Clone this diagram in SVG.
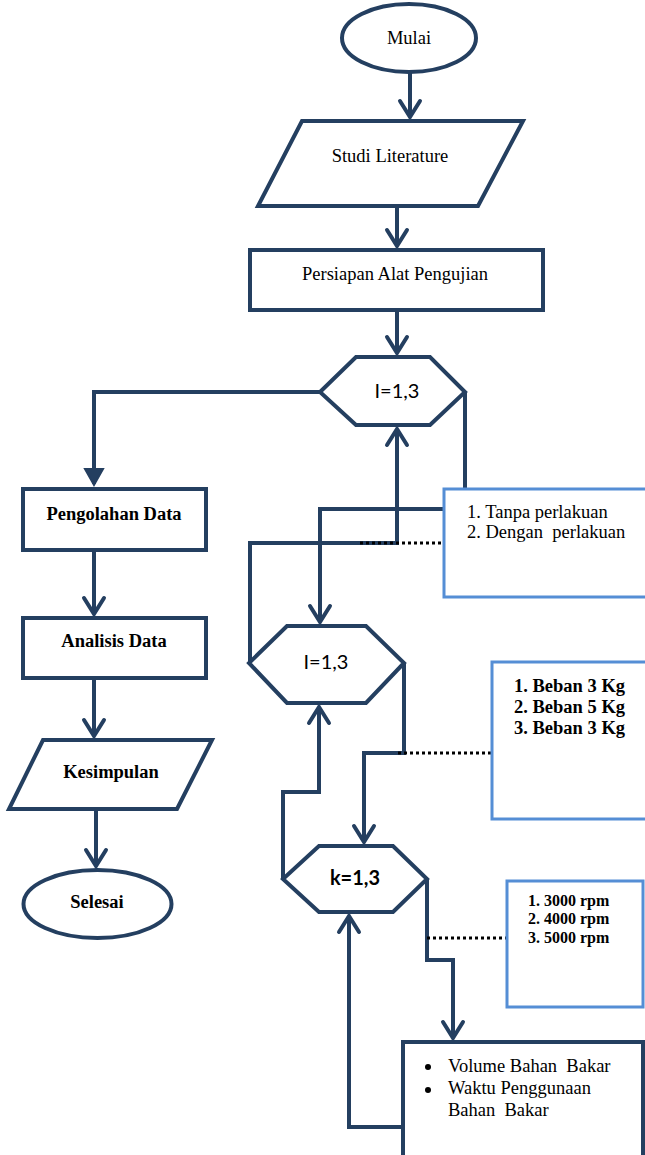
<svg xmlns="http://www.w3.org/2000/svg" width="645" height="1155" viewBox="0 0 645 1155">
<style>
.shape{fill:#fff;stroke:#243F60;stroke-width:4;stroke-linejoin:miter}
.note{fill:#fff;stroke:#558ED5;stroke-width:3}
.conn{fill:none;stroke:#243F60;stroke-width:4;stroke-linejoin:miter}
.dot{fill:none;stroke:#000;stroke-width:3;stroke-dasharray:3 3}
.t{font-family:"Liberation Serif","Times New Roman",serif;font-size:18.5px;fill:#000}
.b{font-weight:bold}
.c{font-family:Lato,"Open Sans",sans-serif;font-size:20px;fill:#000}
.m{text-anchor:middle}
</style>
<defs>
<marker id="open" markerUnits="userSpaceOnUse" orient="auto" refX="0" refY="0" markerWidth="30" markerHeight="30" viewBox="-20 -15 30 30" overflow="visible">
<path d="M-16,-10 L0,0 L-16,10" fill="none" stroke="#243F60" stroke-width="4" stroke-linecap="round"/>
</marker>
<marker id="solid" markerUnits="userSpaceOnUse" orient="auto" refX="0" refY="0" markerWidth="30" markerHeight="30" viewBox="-20 -15 30 30" overflow="visible">
<path d="M-15,-9 L1,0 L-15,9 Z" fill="#243F60" stroke="#243F60" stroke-width="2"/>
</marker>
</defs>

<g id="connectors">
<path class="conn" d="M410,72 L410,117" marker-end="url(#open)"/>
<path class="conn" d="M397,206 L397,246" marker-end="url(#open)"/>
<path class="conn" d="M397,310 L397,353" marker-end="url(#open)"/>
<path class="conn" d="M320,392 L94,392 L94,484" marker-end="url(#solid)"/>
<path class="conn" d="M94,550 L94,614" marker-end="url(#open)"/>
<path class="conn" d="M94,678 L94,736" marker-end="url(#open)"/>
<path class="conn" d="M96,809 L96,866" marker-end="url(#open)"/>
<path class="conn" d="M465,392 L465,489"/>
<path class="conn" d="M444,509 L320,509 L320,622" marker-end="url(#open)"/>
<path class="conn" d="M250,663 L250,543 L397,543 L397,429" marker-end="url(#open)"/>
<path class="conn" d="M404,663 L404,753 L364,753 L364,842" marker-end="url(#open)"/>
<path class="conn" d="M283,879 L283,792 L319,792 L319,707" marker-end="url(#open)"/>
<path class="conn" d="M427,879 L427,960 L453,960 L453,1038" marker-end="url(#open)"/>
<path class="conn" d="M403,1127 L349,1127 L349,916" marker-end="url(#open)"/>
<path class="dot" d="M360,543 L443,543"/>
<path class="dot" d="M398,753 L492,753"/>
<path class="dot" d="M427,938 L507,938"/>
</g>

<g id="mulai">
<ellipse class="shape" cx="409" cy="38" rx="67" ry="34"/>
<text class="t m" x="409" y="44">Mulai</text>
</g>
<g id="studi">
<polygon class="shape" points="302,121 523,121 478,206 258,206"/>
<text class="t m" x="390" y="162">Studi Literature</text>
</g>
<g id="persiapan">
<rect class="shape" x="250" y="250" width="293" height="60"/>
<text class="t m" x="395" y="280">Persiapan Alat Pengujian</text>
</g>
<g id="loop-i1">
<polygon class="shape" points="356,357 430,357 465,392 430,425 356,425 320,392"/>
<text class="c m" x="397" y="398">I=1,3</text>
</g>
<g id="note-perlakuan">
<rect class="note" x="444" y="489" width="215" height="108"/>
<text class="t" x="467" y="518">1. Tanpa perlakuan</text>
<text class="t" x="467" y="538" xml:space="preserve">2. Dengan  perlakuan</text>
</g>
<g id="pengolahan">
<rect class="shape" x="23" y="489" width="183" height="61"/>
<text class="t b m" x="114" y="520">Pengolahan Data</text>
</g>
<g id="analisis">
<rect class="shape" x="23" y="618" width="183" height="60"/>
<text class="t b m" x="114" y="647">Analisis Data</text>
</g>
<g id="kesimpulan">
<polygon class="shape" points="43,740 212,740 177,809 9,809"/>
<text class="t b m" x="111" y="778">Kesimpulan</text>
</g>
<g id="selesai">
<ellipse class="shape" cx="97.5" cy="904" rx="74" ry="34"/>
<text class="t b m" x="97" y="908">Selesai</text>
</g>
<g id="loop-i2">
<polygon class="shape" points="287,626 366,626 404,663 366,703 287,703 249,663"/>
<text class="c m" x="326" y="669">I=1,3</text>
</g>
<g id="note-beban">
<rect class="note" x="492" y="662" width="170" height="157"/>
<text class="t b" x="514" y="692">1. Beban 3 Kg</text>
<text class="t b" x="514" y="713">2. Beban 5 Kg</text>
<text class="t b" x="514" y="734">3. Beban 3 Kg</text>
</g>
<g id="loop-k">
<polygon class="shape" points="319,846 393,846 427,879 393,912 319,912 283,879"/>
<text class="c b m" x="355" y="885">k=1,3</text>
</g>
<g id="note-rpm">
<rect class="note" x="507" y="881" width="136" height="126"/>
<text class="t b" x="528" y="906" style="font-size:16px">1. 3000 rpm</text>
<text class="t b" x="528" y="924" style="font-size:16px">2. 4000 rpm</text>
<text class="t b" x="528" y="943" style="font-size:16px">3. 5000 rpm</text>
</g>
<g id="output">
<rect class="shape" x="403" y="1042" width="240" height="130"/>
<circle cx="428" cy="1067" r="3" fill="#000"/>
<circle cx="428" cy="1090" r="3" fill="#000"/>
<text class="t" x="448" y="1072" xml:space="preserve">Volume Bahan  Bakar</text>
<text class="t" x="448" y="1094">Waktu Penggunaan</text>
<text class="t" x="448" y="1116" xml:space="preserve">Bahan  Bakar</text>
</g>
</svg>
